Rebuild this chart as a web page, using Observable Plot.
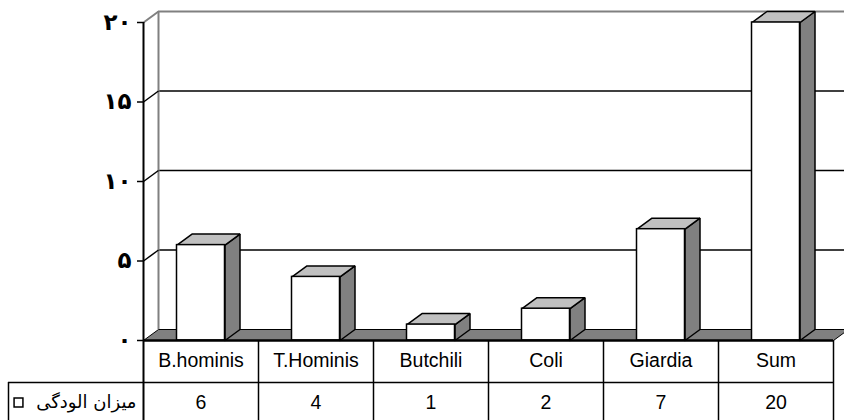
<!DOCTYPE html>
<html>
<head>
<meta charset="utf-8">
<script src="https://cdn.jsdelivr.net/npm/d3@7"></script>
<script src="https://cdn.jsdelivr.net/npm/@observablehq/plot@0.6"></script>
<style>
  html, body { margin: 0; padding: 0; background: #ffffff; }
  #chart { width: 844px; height: 420px; overflow: hidden; }
</style>
</head>
<body>
<div id="chart"></div>
<script>
// ---- data ----
const categories = ["B.hominis", "T.Hominis", "Butchili", "Coli", "Giardia", "Sum"];
const values = [6, 4, 1, 2, 7, 20];
const yTicks = [0, 5, 10, 15, 20];
const yTickLabels = ["۰", "۵", "۱۰", "۱۵", "۲۰"];
const seriesName = "میزان الودگی";

// ---- layout ----
const W = 844, H = 420, mL = 143, mR = 11, mT = 22, mB = 80;
const N = categories.length;
const YMAX = 20;
const PX = (W - mL - mR) / N;        // px per x unit
const PY = (H - mT - mB) / YMAX;     // px per y unit
const xAt = p => (p - mL) / PX;      // pixel -> x units
const yAt = p => (H - mB - p) / PY;  // pixel -> y units
const DX = 15 / PX, DY = 11 / PY;    // 3D depth offset
const BW = 48 / PX;                  // bar front width

const bars = categories.map((c, i) => ({c, v: values[i], i, x1: i + 0.5 - BW / 2, x2: i + 0.5 + BW / 2}));

const sides = bars.flatMap(b => [
  {id: b.i, x: b.x2, y: 0}, {id: b.i, x: b.x2, y: b.v},
  {id: b.i, x: b.x2 + DX, y: b.v + DY}, {id: b.i, x: b.x2 + DX, y: DY}, {id: b.i, x: b.x2, y: 0}
]);
const tops = bars.flatMap(b => [
  {id: b.i, x: b.x1, y: b.v}, {id: b.i, x: b.x2, y: b.v},
  {id: b.i, x: b.x2 + DX, y: b.v + DY}, {id: b.i, x: b.x1 + DX, y: b.v + DY}, {id: b.i, x: b.x1, y: b.v}
]);
const floor = [
  {x: 0, y: 0}, {x: N, y: 0}, {x: N + DX, y: DY}, {x: DX, y: DY}, {x: 0, y: 0}
];

const rowLine = yAt(382);
const tableBottom = yAt(424);
const catY = yAt(360);
const valY = yAt(402);
const legendLeft = xAt(8);

const chart = Plot.plot({
  width: W, height: H,
  marginLeft: mL, marginRight: mR, marginTop: mT, marginBottom: mB,
  x: {type: "linear", domain: [0, N], axis: null},
  y: {type: "linear", domain: [0, YMAX], axis: null},
  style: {fontFamily: "'Liberation Sans', Arial, sans-serif", fontSize: "19px", background: "#ffffff", color: "black"},
  marks: [
    // back wall grid lines
    Plot.ruleY([5, 10, 15], {x1: DX, x2: N + DX + 1, y: d => d + DY, stroke: "black", strokeWidth: 1.5}),
    Plot.ruleY([YMAX], {x1: DX, x2: N + DX + 1, y: d => d + DY, stroke: "#808080", strokeWidth: 2}),
    Plot.ruleX([DX], {y1: DY, y2: YMAX + DY, stroke: "#808080", strokeWidth: 2}),
    // side-wall links from ticks
    Plot.link([5, 10, 15], {x1: 0, y1: d => d, x2: DX, y2: d => d + DY, stroke: "black", strokeWidth: 1.5}),
    Plot.link([YMAX], {x1: 0, y1: d => d, x2: DX, y2: d => d + DY, stroke: "#808080", strokeWidth: 2}),
    // floor
    Plot.line(floor, {x: "x", y: "y", fill: "#808080", stroke: "black", strokeWidth: 1}),
    // bars
    Plot.line(sides, {x: "x", y: "y", z: "id", fill: "#808080", stroke: "black", strokeWidth: 1.5, strokeLinejoin: "miter"}),
    Plot.line(tops, {x: "x", y: "y", z: "id", fill: "#c0c0c0", stroke: "black", strokeWidth: 1.5, strokeLinejoin: "miter"}),
    Plot.rect(bars, {x1: "x1", x2: "x2", y1: 0, y2: "v", fill: "white", stroke: "black", strokeWidth: 1.5}),
    // baseline
    Plot.ruleY([0], {x1: 0, x2: N, stroke: "black", strokeWidth: 2.5}),
    // front value axis
    Plot.ruleX([0], {y1: tableBottom, y2: YMAX, stroke: "black", strokeWidth: 2}),
    Plot.axisY({ticks: yTicks, tickFormat: (d) => yTickLabels[yTicks.indexOf(d)], tickSize: 6, tickPadding: 6,
      strokeWidth: 1.5, fontSize: 23, fontWeight: "bold", fontFamily: "'DejaVu Sans', sans-serif", label: null}),
    // data table
    Plot.ruleX(d3.range(1, N + 1), {y1: tableBottom, y2: 0, stroke: "black", strokeWidth: 1.5}),
    Plot.ruleY([rowLine], {x1: legendLeft, x2: N, stroke: "black", strokeWidth: 1.5}),
    Plot.ruleX([legendLeft], {y1: tableBottom, y2: rowLine, stroke: "black", strokeWidth: 1.5}),
    Plot.text(categories, {x: (d, i) => i + 0.5, y: catY, text: d => d, fontSize: 19.5}),
    Plot.text(values, {x: (d, i) => i + 0.5, y: valY, text: d => String(d), fontSize: 19.5}),
    // legend key
    Plot.dot([seriesName], {x: xAt(18), y: valY, symbol: "square", r: 5, fill: "white", stroke: "black", strokeWidth: 1.5}),
    Plot.text([seriesName], {x: xAt(136), y: valY, text: d => d, textAnchor: "end", fontSize: 18, fontFamily: "'DejaVu Sans', sans-serif"})
  ]
});
document.getElementById("chart").appendChild(chart);
</script>
</body>
</html>
